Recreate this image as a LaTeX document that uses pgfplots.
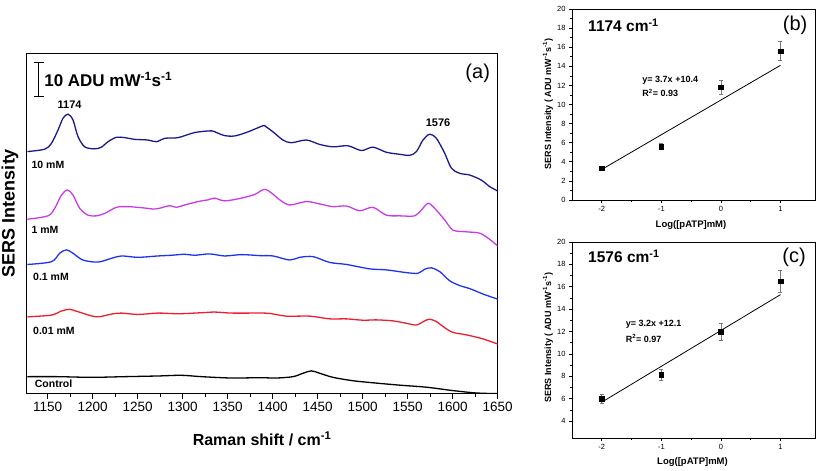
\documentclass[border=0pt]{standalone}
\usepackage{pgfplots}
\pgfplotsset{compat=1.18}
\usepackage{fontspec}
\setmainfont{Liberation Sans}
\definecolor{cten}{RGB}{25,25,140}
\definecolor{cone}{RGB}{200,60,230}
\definecolor{cpone}{RGB}{30,50,240}
\definecolor{cpzone}{RGB}{235,30,50}
\definecolor{errgray}{RGB}{120,120,120}
\newcommand{\fs}[1]{\fontsize{#1}{#1}\selectfont}
\begin{document}
\begin{tikzpicture}[x=1pt,y=1pt]
\path[use as bounding box] (0,0) rectangle (817,471);
% ---------------- panel (a)
\begin{axis}[
 at={(27pt,77pt)}, anchor=south west, scale only axis,
 width=470.7pt, height=340pt,
 xmin=1127, xmax=1650, ymin=0, ymax=100,
 xtick={1150,1200,...,1650}, minor x tick num=1,
 ytick=\empty,
 axis line style={line width=1pt},
 tick style={black, line width=0.8pt},
 xtick pos=bottom, tick align=outside,
 major tick length=5pt, minor tick length=3pt,
 /pgf/number format/assume math mode=true,
 /pgf/number format/set thousands separator={},
 xticklabel style={font=\fs{13.5}},
 every axis plot/.append style={line width=1.3pt, smooth, tension=0.5},
]
\addplot[cten] coordinates {
(1127.4,71.3)(1146.7,72.0)(1154.1,73.7)(1161.4,77.6)(1167.0,81.1)(1172.6,82.3)(1178.1,80.6)(1183.7,75.7)(1191.1,72.7)(1202.2,72.1)(1209.7,72.6)(1217.0,74.2)(1226.3,75.5)(1235.6,75.4)(1246.7,74.9)(1261.4,74.7)(1270.8,74.2)(1280,75.2)(1294.8,75.4)(1313.3,76.9)(1331.9,77.4)(1337.4,76.9)(1346.7,76.0)(1357.8,75.9)(1372.6,77.1)(1389.2,78.9)(1392,78.7)(1400.3,77.1)(1411.4,74.7)(1420.8,73.9)(1437.4,74.7)(1452.2,73.4)(1467.0,72.7)(1483.7,73.0)(1498.6,71.6)(1511.4,72.6)(1526.3,71.1)(1541.1,70.5)(1552.2,70.2)(1559.7,71.3)(1567.0,74.7)(1574.4,76.4)(1581.9,75.2)(1591.1,70.8)(1598.6,66.4)(1607.8,64.9)(1618.9,64.4)(1631.9,62.9)(1641.1,61.0)(1650,59.7)};
\addplot[cone] coordinates {
(1127.4,51.4)(1150.3,52.4)(1157.8,54.6)(1165.2,58.5)(1171.9,60.0)(1178.1,58.5)(1185.6,54.6)(1194.8,52.6)(1204.1,52.4)(1213.3,53.1)(1226.3,54.9)(1239.2,55.1)(1254.1,54.8)(1268.9,54.4)(1278.1,54.9)(1285.6,55.4)(1293.0,54.9)(1302.2,55.6)(1317.0,56.6)(1328.1,57.1)(1335.6,57.6)(1346.7,56.8)(1365.2,57.6)(1380.0,58.7)(1391,60.2)(1400.3,58.8)(1407.8,57.1)(1418.9,55.6)(1437.4,56.6)(1452.2,55.9)(1467.0,55.1)(1481.9,55.3)(1496.7,53.9)(1511.4,54.9)(1526.3,52.6)(1541.1,52.4)(1557.8,52.4)(1565.2,54.1)(1572.6,56.1)(1580.0,54.6)(1591.1,51.2)(1600.3,48.2)(1615.2,47.7)(1630.0,47.3)(1641.1,45.5)(1650,43.5)};
\addplot[cpone] coordinates {
(1127.4,38.1)(1154.1,38.9)(1163.3,41.4)(1170.8,42.4)(1178.1,41.4)(1189.2,39.4)(1205.9,38.8)(1220.8,39.9)(1231.9,40.6)(1250.3,40.2)(1272.6,40.6)(1287.4,40.8)(1302.2,41.1)(1313.3,40.8)(1330.0,41.2)(1346.7,40.6)(1365.2,41.0)(1385.6,40.7)(1400.3,40.6)(1418.9,39.4)(1430,40.2)(1444.8,40.4)(1463.3,38.7)(1481.9,38.1)(1507.8,36.8)(1526.3,36.5)(1548.6,35.7)(1561.4,35.5)(1568.9,36.7)(1576.3,37.1)(1585.6,36.0)(1596.7,33.3)(1607.8,31.9)(1618.9,31.0)(1633.7,29.4)(1650,27.9)};
\addplot[cpzone] coordinates {
(1127.4,22.7)(1154.1,23.2)(1165.2,24.4)(1174.4,24.9)(1183.7,24.2)(1204.1,22.7)(1220.8,23.5)(1231.9,23.8)(1250.3,23.4)(1272.6,23.8)(1294.8,23.6)(1320.8,23.9)(1335.6,24.1)(1354.1,23.8)(1385.6,23.8)(1396.7,23.7)(1415.2,22.9)(1441.1,22.9)(1463.3,22.1)(1481.9,22.1)(1500.3,21.7)(1515.2,21.8)(1533.7,21.5)(1548.6,20.8)(1559.7,20.3)(1568.9,21.5)(1574.4,22.0)(1581.9,21.3)(1591.1,19.5)(1600.3,18.1)(1615.2,17.4)(1633.7,16.2)(1650,14.7)};
\addplot[black] coordinates {
(1127.4,5.1)(1161.4,5.1)(1198.6,4.9)(1235.6,5.1)(1272.6,5.3)(1298.6,5.5)(1320.8,5.1)(1354.1,4.7)(1385.6,4.8)(1404.1,4.7)(1422.6,5.1)(1433.7,6.1)(1443.0,6.8)(1452.2,6.1)(1467.0,4.9)(1489.2,3.9)(1511.4,3.3)(1541.1,2.6)(1570.8,2.0)(1600.3,1.0)(1626.3,0.3)(1650,0.1)};
\draw[line width=1pt] (axis cs:1140,87.4) -- (axis cs:1140,97.4);
\draw[line width=1pt] ([xshift=-5pt]axis cs:1140,87.4) -- ([xshift=5pt]axis cs:1140,87.4);
\draw[line width=1pt] ([xshift=-5pt]axis cs:1140,97.4) -- ([xshift=5pt]axis cs:1140,97.4);
\node[anchor=west, font=\fs{17}\bfseries, inner sep=0pt] at (axis cs:1146,92.4) {10 ADU mW\textsuperscript{-1}s\textsuperscript{-1}};
\node[font=\fs{20}] at (axis cs:1627.8,94.4) {(a)};
\node[font=\fs{11}\bfseries] at (axis cs:1174.4,85.0) {1174};
\node[font=\fs{11}\bfseries] at (axis cs:1583.7,79.8) {1576};
\node[anchor=west, inner sep=0pt, font=\fs{10.5}\bfseries] at (axis cs:1131.9,67.5) {10 mM};
\node[anchor=west, inner sep=0pt, font=\fs{10.5}\bfseries] at (axis cs:1131.9,48.2) {1 mM};
\node[anchor=west, inner sep=0pt, font=\fs{10.5}\bfseries] at (axis cs:1133.7,34.5) {0.1 mM};
\node[anchor=west, inner sep=0pt, font=\fs{10.5}\bfseries] at (axis cs:1133.7,18.6) {0.01 mM};
\node[anchor=west, inner sep=0pt, font=\fs{10.5}\bfseries] at (axis cs:1135.5,2.9) {Control};
\end{axis}
\node[font=\fs{16}\bfseries] at (262,32) {Raman shift / cm\textsuperscript{-1}};
\node[rotate=90, font=\fs{18}\bfseries] at (10,258) {SERS Intensity};
% ---------------- panel (b)
\begin{axis}[
 at={(572pt,271pt)}, anchor=south west, scale only axis,
 width=243pt, height=191pt,
 xmin=-2.5, xmax=1.58, ymin=0, ymax=20,
 xtick={-2,-1,0,1}, minor x tick num=1,
 ytick={0,2,...,20}, minor y tick num=1,
 axis line style={line width=0.8pt},
 tick style={black, line width=0.6pt},
 xtick pos=bottom, ytick pos=left, tick align=outside,
 major tick length=3pt, minor tick length=2pt,
 /pgf/number format/assume math mode=true,
 ticklabel style={font=\fs{7.5}},
]
\addplot[black, line width=0.8pt] coordinates {(-2,3.2)(1,14.1)};
\addplot[only marks, mark=square*, mark size=2.3pt, black,
 error bars/.cd, y dir=both, y explicit,
 error bar style={errgray, line width=0.6pt},
 error mark options={rotate=90, mark size=2pt, errgray, line width=0.6pt}]
 coordinates {(-2,3.35) +- (0,0.15) (-1,5.6) +- (0,0.3) (0,11.8) +- (0,0.7) (1,15.6) +- (0,1.0)};
\node[anchor=west, inner sep=0pt, font=\fs{9}\bfseries] at (axis cs:-1.32,12.57) {y= 3.7x +10.4};
\node[anchor=west, inner sep=0pt, font=\fs{9}\bfseries] at (axis cs:-1.32,11.2) {R\textsuperscript{2}= 0.93};
\node[anchor=west, inner sep=0pt, font=\fs{15.5}\bfseries] at (rel axis cs:0.066,0.916) {1174 cm\textsuperscript{-1}};
\node[font=\fs{20}] at (rel axis cs:0.918,0.916) {(b)};
\end{axis}
\node[font=\fs{9.5}\bfseries] at (691,246) {Log([pATP]mM)};
\node[rotate=90, font=\fs{9}\bfseries] at (548,367) {SERS Intensity ( ADU mW\textsuperscript{-1}s\textsuperscript{-1})};
% ---------------- panel (c)
\begin{axis}[
 at={(572pt,33pt)}, anchor=south west, scale only axis,
 width=243pt, height=196pt,
 xmin=-2.5, xmax=1.58, ymin=2.5, ymax=20,
 xtick={-2,-1,0,1}, minor x tick num=1,
 ytick={4,6,...,20}, minor y tick num=1,
 axis line style={line width=0.8pt},
 tick style={black, line width=0.6pt},
 xtick pos=bottom, ytick pos=left, tick align=outside,
 major tick length=3pt, minor tick length=2pt,
 /pgf/number format/assume math mode=true,
 ticklabel style={font=\fs{7.5}},
]
\addplot[black, line width=0.8pt] coordinates {(-2,5.7)(1,15.3)};
\addplot[only marks, mark=square*, mark size=2.3pt, black,
 error bars/.cd, y dir=both, y explicit,
 error bar style={errgray, line width=0.6pt},
 error mark options={rotate=90, mark size=2pt, errgray, line width=0.6pt}]
 coordinates {(-2,6.0) +- (0,0.4) (-1,8.15) +- (0,0.5) (0,12.0) +- (0,0.75) (1,16.5) +- (0,1.0)};
\node[anchor=west, inner sep=0pt, font=\fs{9}\bfseries] at (axis cs:-1.60,12.66) {y= 3.2x +12.1};
\node[anchor=west, inner sep=0pt, font=\fs{9}\bfseries] at (axis cs:-1.60,11.4) {R\textsuperscript{2}= 0.97};
\node[anchor=west, inner sep=0pt, font=\fs{15.5}\bfseries] at (rel axis cs:0.066,0.927) {1576 cm\textsuperscript{-1}};
\node[font=\fs{20}] at (rel axis cs:0.914,0.92) {(c)};
\end{axis}
\node[font=\fs{9.5}\bfseries] at (692.5,9.3) {Log([pATP]mM)};
\node[rotate=90, font=\fs{9}\bfseries] at (548,133.5) {SERS Intensity ( ADU mW\textsuperscript{-1}s\textsuperscript{-1})};
\end{tikzpicture}
\end{document}
